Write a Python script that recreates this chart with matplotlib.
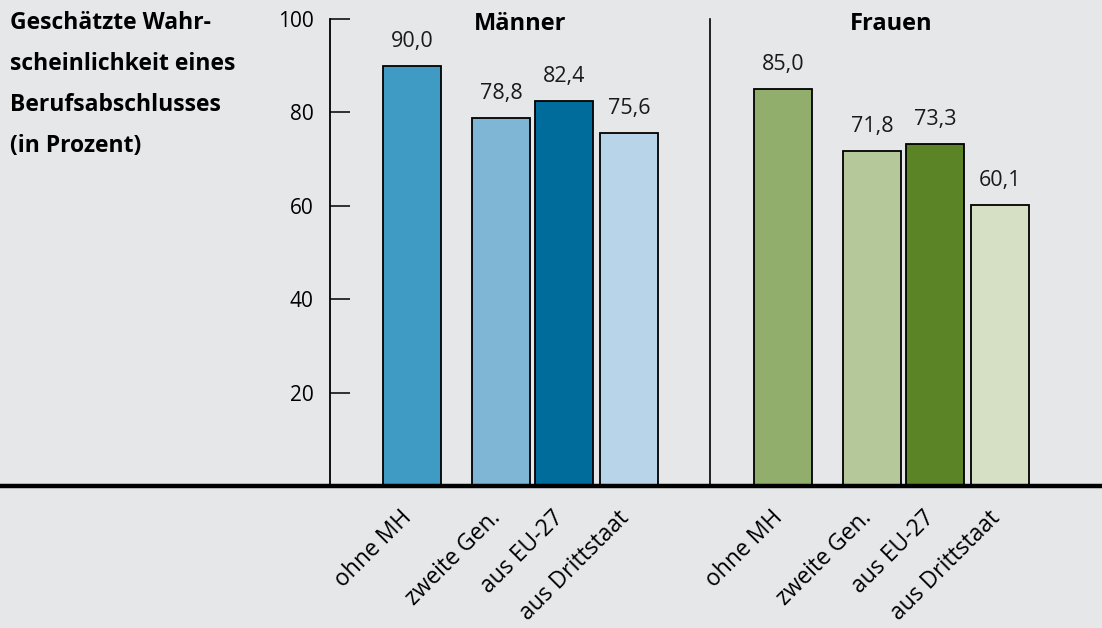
import matplotlib.pyplot as plt
from matplotlib.lines import Line2D

plt.rcParams["font.family"] = ["Open Sans", "DejaVu Sans"]

groups = ["Männer", "Frauen"]
categories = ["ohne MH", "zweite Gen.", "aus EU-27", "aus Drittstaat"]
maenner = [90.0, 78.8, 82.4, 75.6]
frauen = [85.0, 71.8, 73.3, 60.1]
yticks = [20, 40, 60, 80, 100]
title = "Geschätzte Wahr-\nscheinlichkeit eines\nBerufsabschlusses\n(in Prozent)"

BG = "#e6e7e9"
MEN_COLORS = ["#3f9bc4", "#7fb5d5", "#006c9b", "#b8d4e8"]
WOMEN_COLORS = ["#92ae6c", "#b4c899", "#5b8427", "#d5e0c4"]

W, H = 1102, 628
# layout in pixel units (x data = pixel column)
AX_LEFT, AX_BOTTOM, AX_TOP = 330, 486, 19
GROUP_STARTS = [383, 754]
OFFSETS = [0, 89, 152, 217]
BAR_W = 58
DIVIDER_X = 710


def main():
    fig = plt.figure(figsize=(W / 100, H / 100), dpi=100)
    fig.set_facecolor(BG)
    ax = fig.add_axes([AX_LEFT / W, (H - AX_BOTTOM) / H,
                       (W - AX_LEFT) / W, (AX_BOTTOM - AX_TOP) / H])
    ax.set_facecolor(BG)
    ax.set_xlim(AX_LEFT, W)
    ax.set_ylim(0, 100)

    for start, vals, cols, name in zip(GROUP_STARTS, [maenner, frauen],
                                       [MEN_COLORS, WOMEN_COLORS], groups):
        xs = [start + o + BAR_W / 2 for o in OFFSETS]
        ax.bar(xs, vals, width=BAR_W, color=cols, edgecolor="black",
               linewidth=1.3, zorder=3)
        for x, v in zip(xs, vals):
            ax.text(x, v + 3.0, f"{v:.1f}".replace(".", ","), ha="center",
                    va="bottom", fontsize=15.5, color="#1a1a1a")
        ax.text((xs[0] + xs[-1]) / 2, 99, name, ha="center", va="center",
                fontsize=17, fontweight="bold", clip_on=False)
        for x, c in zip(xs, categories):
            ax.text(x - 12, -4.3, c, rotation=45, rotation_mode="anchor",
                    ha="right", va="top", fontsize=16.5, clip_on=False)

    ax.plot([DIVIDER_X, DIVIDER_X], [0, 100], color="black", lw=1.2,
            clip_on=False)

    for s in ["top", "right", "bottom"]:
        ax.spines[s].set_visible(False)
    ax.spines["left"].set_linewidth(1.3)
    ax.set_xticks([])
    ax.set_yticks(yticks)
    ax.tick_params(axis="y", direction="in", length=14.4, width=1.1,
                   pad=12, labelsize=15)

    yb = (H - AX_BOTTOM) / H
    fig.add_artist(Line2D([0, 1], [yb, yb], transform=fig.transFigure,
                          color="black", lw=3.2))

    fig.text(10 / W, 1 - 11 / H, title, ha="left", va="top", fontsize=16.5,
             fontweight="bold", linespacing=1.95)

    fig.savefig("out.png", dpi=100, facecolor=BG)


if __name__ == "__main__":
    main()
